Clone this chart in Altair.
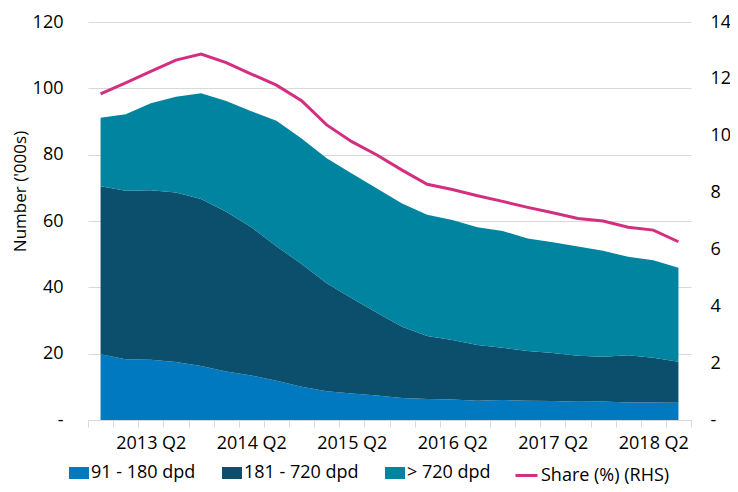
import altair as alt
import pandas as pd

QUARTERS = [
    "2012 Q4", "2013 Q1", "2013 Q2", "2013 Q3", "2013 Q4", "2014 Q1", "2014 Q2", "2014 Q3",
    "2014 Q4", "2015 Q1", "2015 Q2", "2015 Q3", "2015 Q4", "2016 Q1", "2016 Q2", "2016 Q3",
    "2016 Q4", "2017 Q1", "2017 Q2", "2017 Q3", "2017 Q4", "2018 Q1", "2018 Q2", "2018 Q3",
]
TICK_LABELS = ["2013 Q2", "2014 Q2", "2015 Q2", "2016 Q2", "2017 Q2", "2018 Q2"]

SERIES = ["91 - 180 dpd", "181 - 720 dpd", "> 720 dpd"]
SHARE_LABEL = "Share (%) (RHS)"

DPD_91_180 = [19.8, 18.3, 18.2, 17.5, 16.3, 14.6, 13.4, 11.8, 10.0, 8.7, 8.0, 7.4,
              6.6, 6.3, 6.2, 5.8, 6.0, 5.8, 5.7, 5.5, 5.6, 5.3, 5.3, 5.2]
DPD_181_720 = [50.7, 50.8, 51.1, 51.1, 50.3, 48.2, 44.7, 40.6, 37.0, 32.5, 28.7, 24.9,
               21.5, 19.0, 17.9, 16.8, 15.8, 15.0, 14.5, 13.9, 13.5, 14.2, 13.5, 12.4]
DPD_720_PLUS = [20.6, 23.1, 26.2, 28.9, 31.9, 33.4, 35.0, 37.8, 37.9, 37.7, 37.6, 37.5,
                37.2, 36.6, 36.2, 35.5, 35.2, 33.9, 33.4, 32.9, 31.9, 29.7, 29.4, 28.3]
SHARE = [11.47, 11.86, 12.26, 12.66, 12.87, 12.57, 12.17, 11.78, 11.23, 10.38, 9.79, 9.32,
         8.79, 8.29, 8.11, 7.89, 7.69, 7.48, 7.29, 7.09, 7.00, 6.78, 6.68, 6.27]

AREA_COLORS = ["#0079C1", "#0B4F6C", "#0084A0"]
LINE_COLOR = "#D42E80"
FONT = "Open Sans"
GRID = "#D9D9D9"

rows = []
for k, (name, vals) in enumerate(zip(SERIES, [DPD_91_180, DPD_181_720, DPD_720_PLUS])):
    for q, v in zip(QUARTERS, vals):
        rows.append({"quarter": q, "series": name, "value": v, "ord": k})
area_df = pd.DataFrame(rows)
line_df = pd.DataFrame({"quarter": QUARTERS, "share": SHARE, "series": SHARE_LABEL})

tick_list = "[" + ",".join("'" + t + "'" for t in TICK_LABELS) + "]"

x_enc = alt.X(
    "quarter:O",
    sort=QUARTERS,
    bandPosition=0.5,
    scale=alt.Scale(type="band", paddingInner=0, paddingOuter=0),
    axis=alt.Axis(
        title=None,
        labelExpr=f"indexof({tick_list}, datum.value) >= 0 ? datum.value : ''",
        labelAngle=0,
        labelOverlap=False,
        tickBand="extent",
        domainColor=GRID,
        tickColor=GRID,
        tickSize=7,
        labelPadding=7,
        grid=False,
        labelFont=FONT,
        labelFontSize=18,
        labelColor="#000000",
    ),
)

legend_common = dict(
    title=None,
    orient="none",
    direction="horizontal",
    labelFont=FONT,
    labelFontSize=18,
    labelColor="#000000",
    labelOffset=2,
    columnPadding=26,
    padding=0,
)

areas = alt.Chart(area_df).mark_area(opacity=1).encode(
    x=x_enc,
    y=alt.Y(
        "value:Q",
        stack="zero",
        scale=alt.Scale(domain=[0, 120]),
        axis=alt.Axis(
            title="Number ('000s)",
            values=[0, 20, 40, 60, 80, 100, 120],
            labelExpr="datum.value == 0 ? '-' : datum.label",
            grid=True,
            gridColor=GRID,
            domain=False,
            ticks=False,
            labelPadding=25,
            labelFont=FONT,
            labelFontSize=18,
            labelColor="#000000",
            titleFont=FONT,
            titleFontSize=17,
            titleFontWeight="normal",
            titleColor="#000000",
            titleX=-68,
            titleY=169,
            titleBaseline="middle",
            titleAlign="center",
        ),
    ),
    fill=alt.Fill(
        "series:N",
        scale=alt.Scale(domain=SERIES, range=AREA_COLORS),
        legend=alt.Legend(
            legendX=-19,
            legendY=441,
            symbolType="M-1,-0.6H1V0.6H-1Z",
            symbolSize=400,
            symbolStrokeWidth=0,
            symbolOpacity=1,
            **legend_common,
        ),
    ),
    order=alt.Order("ord:Q", sort="ascending"),
)

line = alt.Chart(line_df).mark_line(strokeWidth=3).encode(
    x=x_enc,
    y=alt.Y(
        "share:Q",
        scale=alt.Scale(domain=[0, 14]),
        axis=alt.Axis(
            orient="right",
            title=None,
            values=[0, 2, 4, 6, 8, 10, 12, 14],
            labelExpr="datum.value == 0 ? '-' : datum.label",
            grid=False,
            domain=False,
            ticks=False,
            labelPadding=19,
            labelFont=FONT,
            labelFontSize=18,
            labelColor="#000000",
        ),
    ),
    stroke=alt.Stroke(
        "series:N",
        scale=alt.Scale(domain=[SHARE_LABEL], range=[LINE_COLOR]),
        legend=alt.Legend(
            legendX=426,
            legendY=441,
            symbolType="stroke",
            symbolSize=484,
            symbolStrokeWidth=3,
            **legend_common,
        ),
    ),
)

chart = (
    alt.layer(areas, line)
    .resolve_scale(y="independent")
    .properties(
        width=603,
        height=398,
        autosize=alt.AutoSizeParams(type="none"),
        padding={"left": 80, "top": 14, "right": 39, "bottom": 64},
        background="white",
    )
    .configure_view(stroke=None)
)

chart.save("out.html", embed_options={"renderer": "svg", "actions": False})
